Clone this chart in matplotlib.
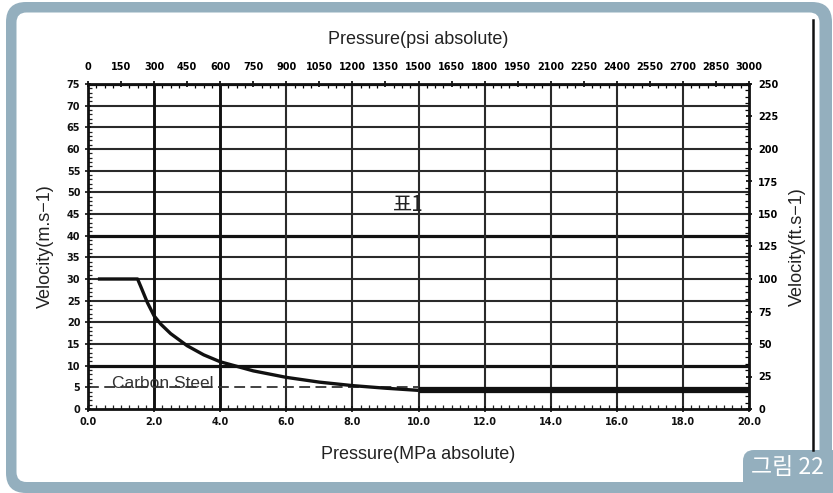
import numpy as np
import matplotlib.pyplot as plt
from matplotlib.patches import FancyBboxPatch
from matplotlib.ticker import MultipleLocator, FixedLocator

# data
pressure_mpa = [0.3, 1.5, 1.6, 1.8, 2.0, 2.2, 2.5, 3.0, 3.5, 4.0, 5.0, 6.0, 7.0, 8.0, 9.0, 10.0, 20.0]
velocity_ms = [30, 30, 28.2, 24.5, 21.5, 19.6, 17.4, 14.6, 12.5, 10.9, 8.8, 7.3, 6.2, 5.4, 4.8, 4.3, 4.3]
carbon_steel_x = [0.0, 10.0]
carbon_steel_y = [5, 5]
x_ticks = np.arange(0, 20.1, 2.0)
y_ticks = np.arange(0, 76, 5)
psi_ticks = np.arange(0, 3001, 150)
fts_ticks = np.arange(0, 251, 25)

frame_col = '#94AFBE'
tick_font = ['Liberation Sans Narrow', 'DejaVu Sans']
label_font = ['Liberation Sans', 'DejaVu Sans']

fig = plt.figure(figsize=(8.33, 4.93), dpi=100)
fig.patch.set_facecolor('white')

# frame in pixel coordinates
bg = fig.add_axes([0, 0, 1, 1])
bg.set_xlim(0, 833)
bg.set_ylim(493, 0)
bg.axis('off')
bg.add_patch(FancyBboxPatch((6, 2), 826, 491, boxstyle='round,pad=0,rounding_size=20',
                            fc=frame_col, ec='none'))
bg.add_patch(FancyBboxPatch((16.5, 12.5), 803, 469.5, boxstyle='round,pad=0,rounding_size=10',
                            fc='white', ec='none'))
bg.add_patch(FancyBboxPatch((743, 450), 100, 60, boxstyle='round,pad=0,rounding_size=11',
                            fc=frame_col, ec='none'))
bg.plot([813.5, 813.5], [20, 450], color='#111111', lw=1.8)
bg.text(787, 467, '그림 22', color='white', fontsize=16.5, ha='center', va='center',
        family=['Noto Sans CJK KR', 'DejaVu Sans'], weight='medium')

ax = fig.add_axes([88 / 833, 84 / 493, 661 / 833, 325 / 493])
ax.set_xlim(0, 20)
ax.set_ylim(0, 75)

# grid
for y in y_ticks[2:]:
    thick = y in (10, 40, 75)
    ax.axhline(y, color='#111111' if thick else '#2a2a2a', lw=2.3 if thick else 1.5, zorder=1)
for x in x_ticks[1:-1]:
    thick = x in (2.0, 4.0)
    ax.axvline(x, color='#111111' if thick else '#2a2a2a', lw=2.1 if thick else 1.5, zorder=1)

# curve
ax.plot(pressure_mpa[:-1], velocity_ms[:-1], color='#111111', lw=2.4, zorder=3,
        solid_capstyle='butt', solid_joinstyle='round')
ax.plot(pressure_mpa[-2:], velocity_ms[-2:], color='#111111', lw=4.5, zorder=3,
        solid_capstyle='butt')
ax.plot(carbon_steel_x, carbon_steel_y, color='#333333', lw=1.3, ls=(0, (6, 3)), zorder=2)
ax.text(0.73, 5.8, 'Carbon Steel', fontsize=12.5, color='#333333', va='center',
        family=label_font, zorder=2)
ax.text(9.7, 47, '표1', fontsize=15, color='#222222', ha='center', va='center',
        family=['Noto Sans CJK KR', 'DejaVu Sans'], zorder=4)

for s in ax.spines.values():
    s.set_linewidth(2.0)
    s.set_color('#111111')

ax.xaxis.set_major_locator(FixedLocator(x_ticks))
ax.set_xticklabels([f'{v:.1f}' for v in x_ticks])
ax.xaxis.set_minor_locator(MultipleLocator(0.25))
ax.yaxis.set_major_locator(FixedLocator(y_ticks))
ax.set_yticklabels([f'{int(v)}' for v in y_ticks])
ax.yaxis.set_minor_locator(MultipleLocator(1))
ax.tick_params(which='major', direction='inout', length=5, width=1.2, colors='#111111',
               labelsize=7, pad=3)
ax.tick_params(which='minor', direction='in', length=3, width=0.9, colors='#222222')
for lab in ax.get_xticklabels() + ax.get_yticklabels():
    lab.set_family(tick_font)
    lab.set_weight('bold')

ax.set_xlabel('Pressure(MPa absolute)', fontsize=13, family=label_font, color='#222222',
              labelpad=14)
ax.set_ylabel('Velocity(m.s−1)', fontsize=13, family=label_font, color='#222222',
              labelpad=9)

top = ax.secondary_xaxis('top', functions=(lambda m: m * 150.0, lambda p: p / 150.0))
top.xaxis.set_major_locator(FixedLocator(psi_ticks))
top.set_xticklabels([str(int(v)) for v in psi_ticks])
top.xaxis.set_minor_locator(MultipleLocator(37.5))
top.tick_params(which='major', direction='inout', length=5, width=1.2, labelsize=7, pad=6)
top.tick_params(which='minor', direction='in', length=3, width=0.9)
for lab in top.get_xticklabels():
    lab.set_family(tick_font)
    lab.set_weight('bold')
top.set_xlabel('Pressure(psi absolute)', fontsize=13, family=label_font, color='#222222',
               labelpad=13)

right = ax.secondary_yaxis('right', functions=(lambda m: m * 250.0 / 75.0,
                                               lambda f: f * 75.0 / 250.0))
right.yaxis.set_major_locator(FixedLocator(fts_ticks))
right.set_yticklabels([str(int(v)) for v in fts_ticks])
right.yaxis.set_minor_locator(MultipleLocator(5))
right.tick_params(which='major', direction='inout', length=5, width=1.2, labelsize=7, pad=4)
right.tick_params(which='minor', direction='in', length=3, width=0.9)
for lab in right.get_yticklabels():
    lab.set_family(tick_font)
    lab.set_weight('bold')
right.set_ylabel('Velocity(ft.s−1)', fontsize=13, family=label_font, color='#222222',
                 labelpad=8)

fig.savefig('out.png', dpi=100)
